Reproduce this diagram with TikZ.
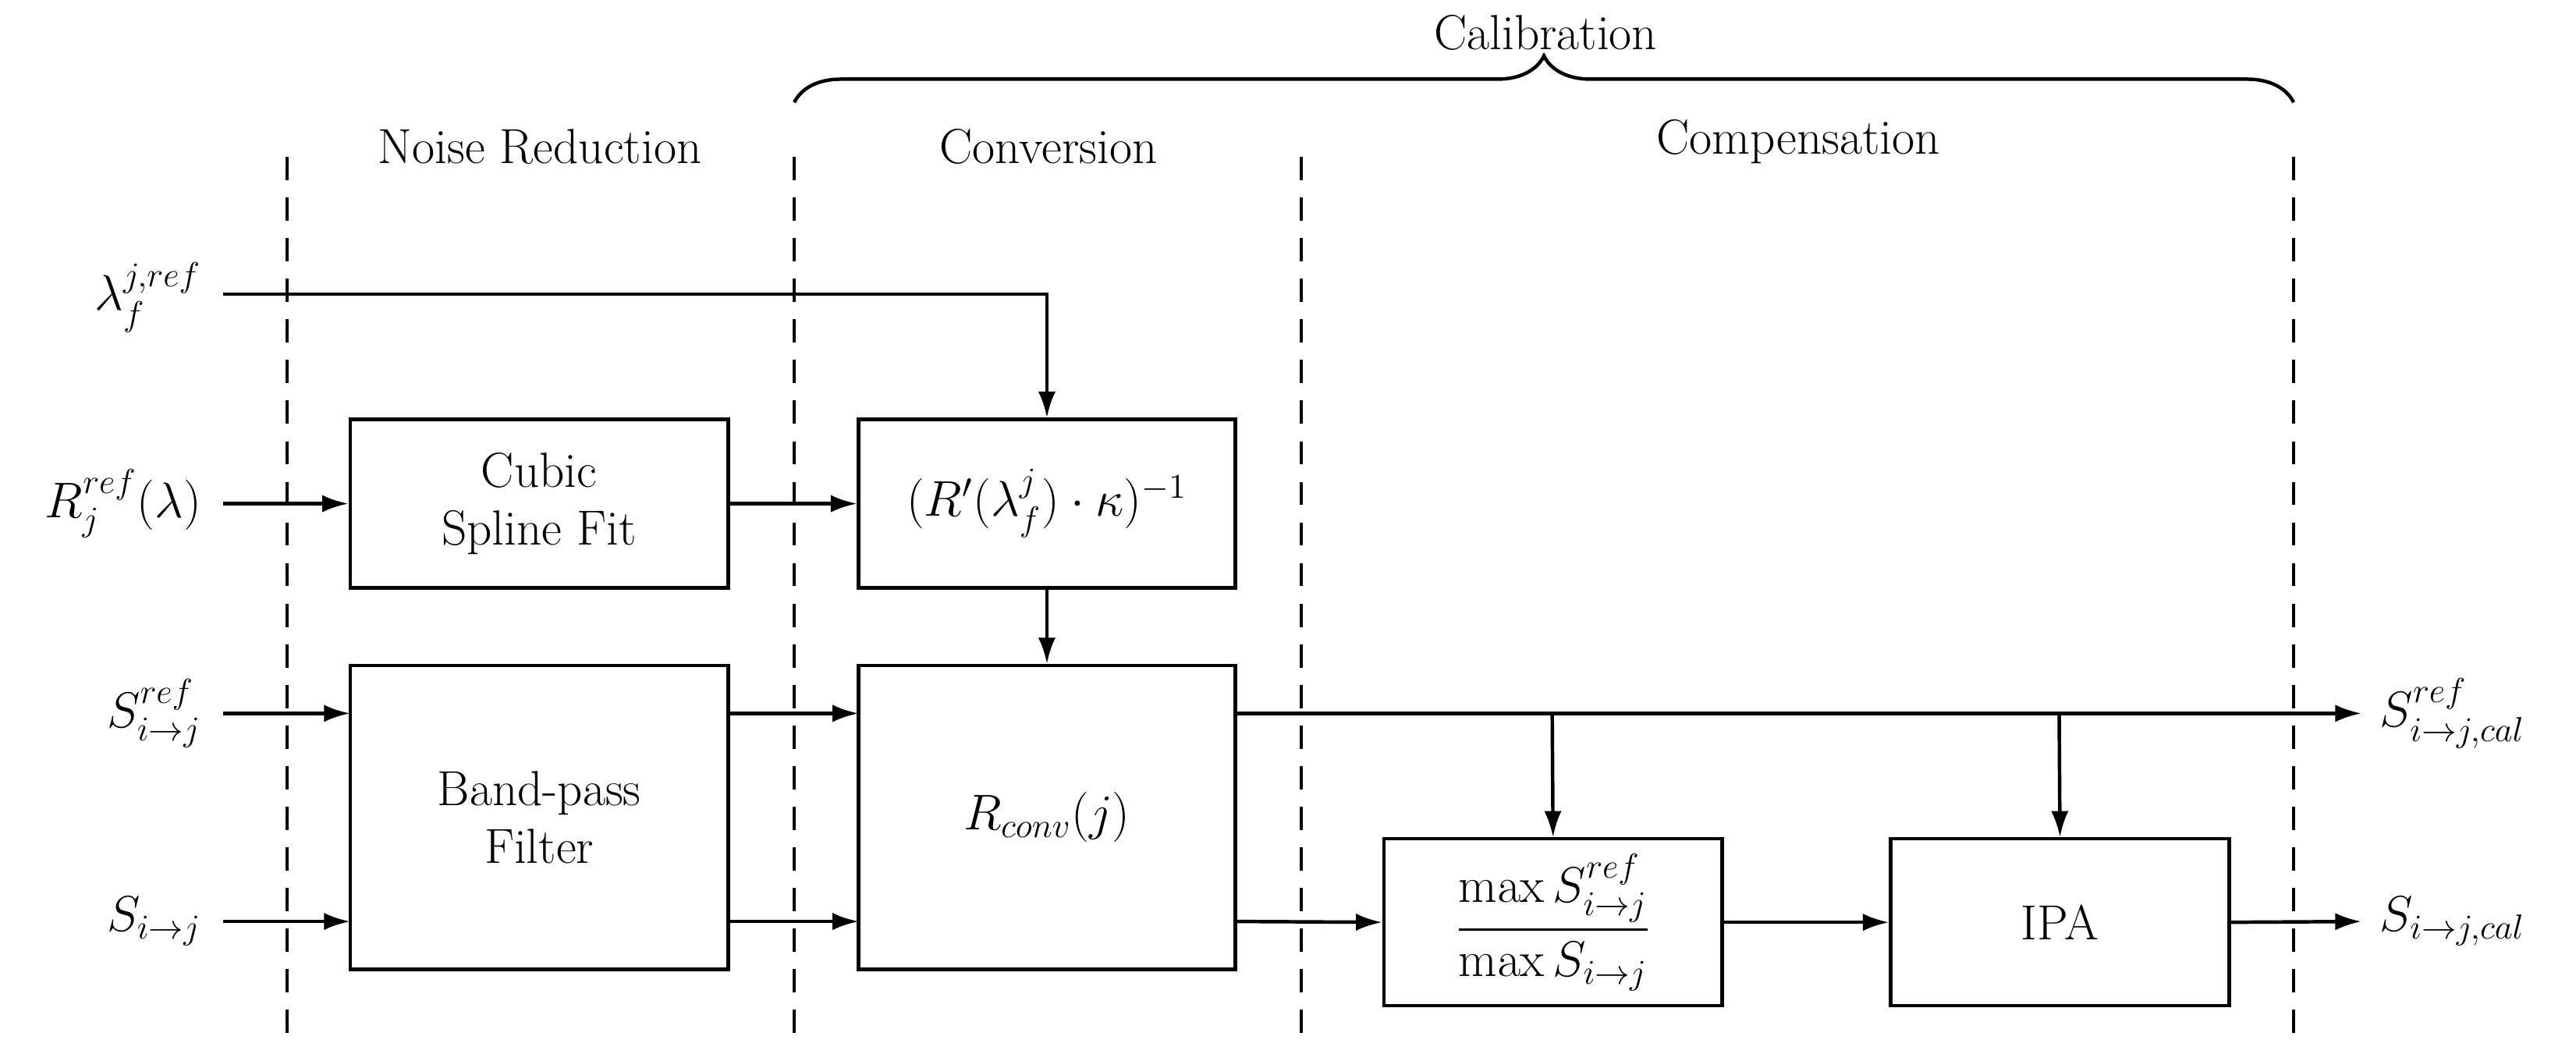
\documentclass[tikz,border=0pt]{standalone}
\usepackage{amsmath}
\usetikzlibrary{arrows.meta,decorations.pathreplacing}
\begin{document}
\begin{tikzpicture}[x=0.02cm,y=-0.02cm,
  every node/.style={font=\fontsize{17}{20}\selectfont},
  box/.style={draw,line width=1.2pt,inner sep=0pt,align=center},
  arr/.style={line width=1.2pt,-{Latex[length=9pt,width=6pt]}},
  ln/.style={line width=1.2pt},
  dsh/.style={line width=1pt,dash pattern=on 8pt off 6pt}]
\useasboundingbox (0,0) rectangle (1560,634);
% dashed separators
\foreach \x/\n in {174/a,481/b,788/c,1389/d} {\draw[dsh] (\x,95) -- (\x,632);}
% headings
\node (nr) at (327,89) {Noise Reduction};
\node (cv) at (635,89) {Conversion};
\node (cp) at (1089,86) {Compensation};
\node (cal) at (936,20) {Calibration};
\coordinate (bl) at (481,62); \coordinate (br) at (1389,62);
\draw[ln,decoration={brace,amplitude=16pt},decorate] (bl) -- (br);
% inputs
\node[anchor=east] (lam) at (128,180) {$\lambda_f^{j,ref}$};
\node[anchor=east] (rin) at (128,305) {$R_j^{ref}(\lambda)$};
\node[anchor=east] (sref) at (128,432) {$S_{i\rightarrow j}^{ref}$};
\node[anchor=east] (sin) at (128,558) {$S_{i\rightarrow j}$};
% boxes
\node[box,minimum width=229*0.02cm,minimum height=102*0.02cm] (csf) at (326.5,305) {Cubic\\Spline Fit};
\node[box,minimum width=229*0.02cm,minimum height=184*0.02cm] (bpf) at (326.5,495) {Band-pass\\Filter};
\node[box,minimum width=228*0.02cm,minimum height=102*0.02cm] (inv) at (634,305) {$(R'(\lambda_f^j)\cdot\kappa)^{-1}$};
\node[box,minimum width=228*0.02cm,minimum height=184*0.02cm] (rc) at (634,495) {$R_{conv}(j)$};
\node[box,minimum width=205*0.02cm,minimum height=101*0.02cm] (mx) at (940.5,558.5) {$\dfrac{\max S_{i\rightarrow j}^{ref}}{\max S_{i\rightarrow j}}$};
\node[box,minimum width=205*0.02cm,minimum height=101*0.02cm] (ipa) at (1247.5,558.5) {IPA};
% outputs
\node[anchor=west] (srefo) at (1435,432) {$S_{i\rightarrow j,cal}^{ref}$};
\node[anchor=west] (so) at (1435,558) {$S_{i\rightarrow j,cal}$};
% connectors
\coordinate (lt) at (634,178);
\draw[arr] (135,178) -- (lt) -- (inv.north);
\draw[arr] (135,305) -- (csf.west);
\draw[arr] (135,432) -- (212,432);
\draw[arr] (135,558) -- (212,558);
\draw[arr] (csf.east) -- (inv.west);
\draw[arr] (441,432) -- (520,432);
\draw[arr] (441,558) -- (520,558);
\draw[arr] (inv.south) -- (rc.north);
\draw[arr] (748,432) -- (1430,432);
\coordinate (b1) at (940,432); \coordinate (b2) at (1247,432);
\draw[arr] (b1) -- (mx.north);
\draw[arr] (b2) -- (ipa.north);
\draw[arr] (748,558) -- (mx.west);
\draw[arr] (mx.east) -- (ipa.west);
\draw[arr] (ipa.east) -- (1430,558);
\end{tikzpicture}
\end{document}
